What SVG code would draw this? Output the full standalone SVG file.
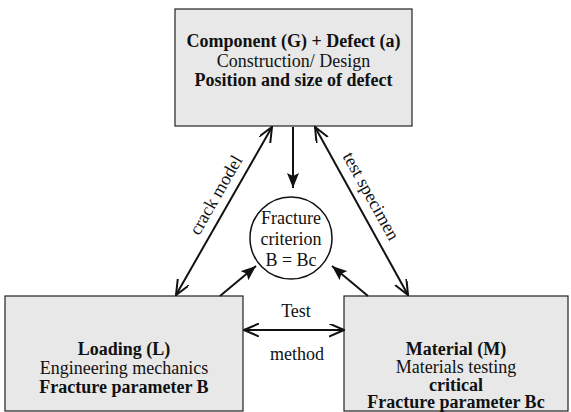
<svg xmlns="http://www.w3.org/2000/svg" width="571" height="412" viewBox="0 0 571 412">
<style>
.box{fill:#e8e8e8;stroke:#222;stroke-width:1.2}
text{font-family:'Liberation Serif','Times New Roman','DejaVu Serif',serif;font-size:18px;fill:#111;text-anchor:middle}
.b{font-weight:bold}
.ln{stroke:#111;stroke-width:2;fill:none}
</style>
<defs>
<marker id="open" markerUnits="userSpaceOnUse" markerWidth="16" markerHeight="14" refX="15" refY="6.5" orient="auto-start-reverse" viewBox="0 0 16 14">
<path d="M0,0 L15,6.5 L0,13" fill="none" stroke="#111" stroke-width="2"/>
</marker>
<marker id="fill" markerUnits="userSpaceOnUse" markerWidth="16" markerHeight="12" refX="15" refY="6" orient="auto" viewBox="0 0 16 12">
<path d="M0,0 L15,6 L0,12 L3,6 z" fill="#111"/>
</marker>
</defs>
<g font-family="Liberation Serif, Times New Roman, serif">
<g id="component">
<rect class="box" x="175" y="9" width="237" height="117"/>
<text class="b" x="293.5" y="47">Component (G) + Defect (a)</text>
<text x="293.5" y="67">Construction/ Design</text>
<text class="b" x="293.5" y="86">Position and size of defect</text>
</g>
<g id="loading">
<rect class="box" x="5" y="296" width="238" height="115"/>
<text class="b" x="124" y="355">Loading (L)</text>
<text x="124" y="374">Engineering mechanics</text>
<text class="b" x="124" y="393">Fracture parameter B</text>
</g>
<g id="material">
<rect class="box" x="344" y="296" width="224" height="115"/>
<text class="b" x="456" y="355">Material (M)</text>
<text x="456" y="373">Materials testing</text>
<text class="b" x="456" y="391">critical</text>
<text class="b" x="456" y="408">Fracture parameter Bc</text>
</g>
<g id="criterion">
<circle cx="291" cy="238" r="41" fill="#fff" stroke="#111" stroke-width="1.5"/>
<text x="291" y="224">Fracture</text>
<text x="291" y="245">criterion</text>
<text x="291" y="266">B = Bc</text>
</g>
<g id="connectors">
<line class="ln" x1="293" y1="127" x2="293" y2="188" marker-end="url(#fill)"/>
<line class="ln" x1="220" y1="296" x2="256" y2="266" marker-end="url(#fill)"/>
<line class="ln" x1="368" y1="296" x2="332" y2="266" marker-end="url(#fill)"/>
<line class="ln" x1="176" y1="295" x2="272" y2="127" marker-start="url(#open)" marker-end="url(#open)"/>
<line class="ln" x1="408" y1="295" x2="315" y2="127" marker-start="url(#open)" marker-end="url(#open)"/>
<line class="ln" x1="244" y1="330" x2="344" y2="330" marker-start="url(#open)" marker-end="url(#open)"/>
<text x="221" y="198" transform="rotate(-60 221 198)">crack model</text>
<text x="366" y="199" transform="rotate(61 366 199)">test specimen</text>
<text x="296" y="317">Test</text>
<text x="297" y="360">method</text>
</g>
</g>
</svg>
